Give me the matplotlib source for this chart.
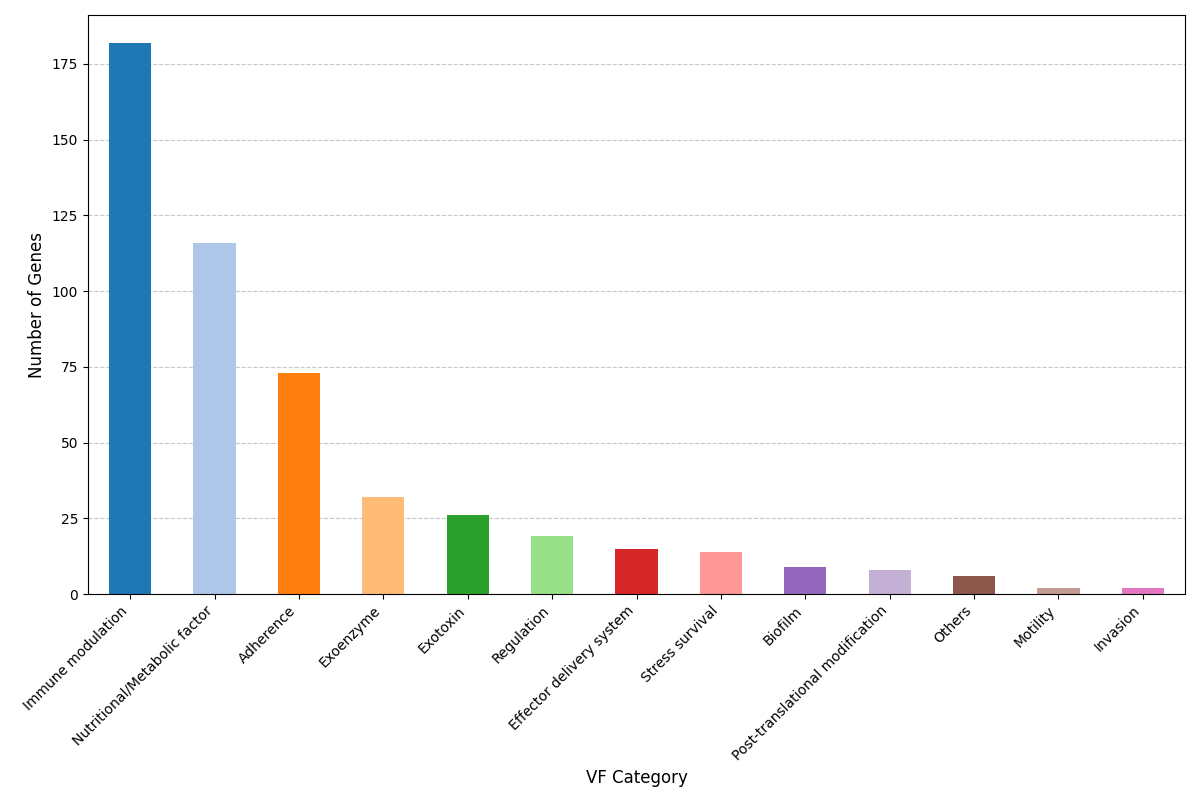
import matplotlib
matplotlib.use("Agg")
import matplotlib.pyplot as plt

categories = ["Immune modulation", "Nutritional/Metabolic factor", "Adherence", "Exoenzyme",
              "Exotoxin", "Regulation", "Effector delivery system", "Stress survival",
              "Biofilm", "Post-translational modification", "Others", "Motility", "Invasion"]
counts = [182, 116, 73, 32, 26, 19, 15, 14, 9, 8, 6, 2, 2]

cmap = plt.get_cmap("tab20")
colors = [cmap(i) for i in range(len(categories))]

fig, ax = plt.subplots(figsize=(12, 8), dpi=100)
x = list(range(len(categories)))
ax.bar(x, counts, width=0.5, color=colors)
ax.set_xlim(-0.5, len(categories) - 0.5)
ax.set_xticks(x)
ax.set_xticklabels(categories, rotation=45, ha="right")
ax.set_xlabel("VF Category", fontsize=12)
ax.set_ylabel("Number of Genes", fontsize=12)
ax.grid(axis="y", linestyle="--", alpha=0.7)
ax.set_axisbelow(True)
fig.subplots_adjust(left=88 / 1200, right=1185 / 1200, top=1 - 15 / 800, bottom=1 - 594 / 800)
fig.savefig("out.png", dpi=100)
